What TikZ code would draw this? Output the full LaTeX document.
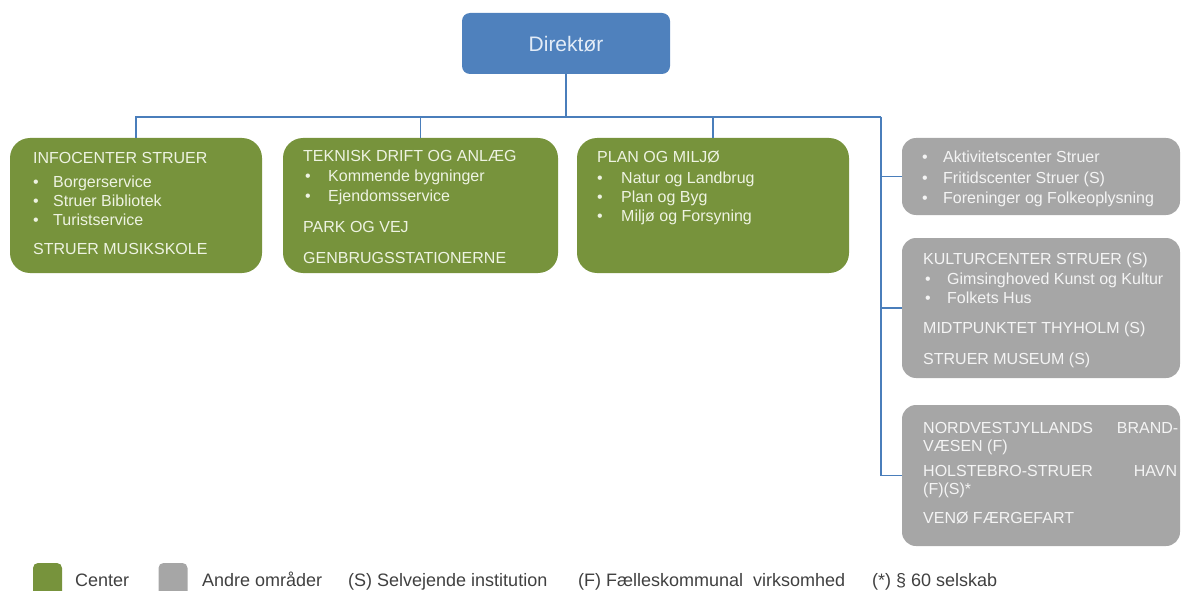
\documentclass[tikz,border=0pt]{standalone}
\usepackage{fontspec}
\setmainfont{Liberation Sans}
\definecolor{dirblue}{HTML}{4F81BD}
\definecolor{linecol}{HTML}{4A7EBB}
\definecolor{cgreen}{HTML}{77933C}
\definecolor{cgrey}{HTML}{A6A6A6}
\definecolor{gtext}{HTML}{EEF3E2}
\definecolor{atext}{HTML}{F4F4F4}
\definecolor{dtext}{HTML}{E3ECF7}
\definecolor{legtext}{HTML}{404040}
\begin{document}
\begin{tikzpicture}[x=1pt,y=-1pt,
  boxbase/.style={inner sep=0pt, outer sep=0pt, draw=none},
  dirbox/.style={boxbase, fill=dirblue, rounded corners=8pt, minimum width=208pt, minimum height=61pt},
  greenbox/.style={boxbase, fill=cgreen, rounded corners=20pt, minimum width=#1, minimum height=135pt},
  greybox/.style={boxbase, fill=cgrey, rounded corners=14pt, minimum width=278pt, minimum height=#1},
  conn/.style={draw=linecol, line width=1.3pt},
  greentxt/.style={anchor=base west, inner sep=0pt, text=gtext, font=\fontsize{16}{18}\selectfont},
  greytxt/.style={anchor=base west, inner sep=0pt, text=atext, font=\fontsize{16}{18}\selectfont},
  legtxt/.style={anchor=base west, inner sep=0pt, text=legtext, font=\fontsize{18}{20}\selectfont},
  legsq/.style={boxbase, rounded corners=5pt, minimum width=29pt, minimum height=40pt}
]
\useasboundingbox (0,0) rectangle (1181,591);
\clip (0,0) rectangle (1181,591);

% Director
\node[dirbox] (dir) at (566,43.5) {};
\node[inner sep=0pt, text=dtext, font=\fontsize{21}{24}\selectfont] (dirt) at (566,44) {Direktør};

% Green boxes
\node[greenbox=252pt] (g1) at (136,205.5) {};
\node[greenbox=275pt] (g2) at (420.5,205.5) {};
\node[greenbox=272pt] (g3) at (713,205.5) {};

% Grey boxes
\node[greybox=77pt] (a1) at (1041,176.5) {};
\node[greybox=140pt] (a2) at (1041,308) {};
\node[greybox=141pt] (a3) at (1041,475.5) {};

% Connectors
\coordinate (bus) at (566,117);
\coordinate (vx) at (881,117);
\draw[conn] (dir.south) -- (bus);
\draw[conn] (g1.north) -- (g1.north |- bus) -- (vx);
\draw[conn] (g2.north) -- (g2.north |- bus);
\draw[conn] (g3.north) -- (g3.north |- bus);
\draw[conn] (vx) |- (a1.west);
\draw[conn] (vx) |- (a2.west);
\draw[conn] (vx) |- (a3.west);

% Box 1 text
\node[greentxt] (t11) at (33,164) {INFOCENTER STRUER};
\node[greentxt] (b11) at (33,187) {•}; \node[greentxt] (t12) at (53,187) {Borgerservice};
\node[greentxt] (b12) at (33,206) {•}; \node[greentxt] (t13) at (53,206) {Struer Bibliotek};
\node[greentxt] (b13) at (33,225) {•}; \node[greentxt] (t14) at (53,225) {Turistservice};
\node[greentxt] (t15) at (33,254) {STRUER MUSIKSKOLE};

% Box 2 text
\node[greentxt] (t21) at (303,161) {TEKNISK DRIFT OG ANLÆG};
\node[greentxt] (b21) at (305,182) {•}; \node[greentxt] (t22) at (328,182) {Kommende bygninger};
\node[greentxt] (b22) at (305,201) {•}; \node[greentxt] (t23) at (328,201) {Ejendomsservice};
\node[greentxt] (t24) at (303,232) {PARK OG VEJ};
\node[greentxt] (t25) at (303,263) {GENBRUGSSTATIONERNE};

% Box 3 text
\node[greentxt] (t31) at (597,163) {PLAN OG MILJØ};
\node[greentxt] (b31) at (597,183) {•}; \node[greentxt] (t32) at (621,183) {Natur og Landbrug};
\node[greentxt] (b32) at (597,202) {•}; \node[greentxt] (t33) at (621,202) {Plan og Byg};
\node[greentxt] (b33) at (597,221) {•}; \node[greentxt] (t34) at (621,221) {Miljø og Forsyning};

% Grey box 1 text
\node[greytxt] (c11) at (922,163) {•}; \node[greytxt] (s11) at (943,163) {Aktivitetscenter Struer};
\node[greytxt] (c12) at (922,183) {•}; \node[greytxt] (s12) at (943,183) {Fritidscenter Struer (S)};
\node[greytxt] (c13) at (922,203) {•}; \node[greytxt] (s13) at (943,203) {Foreninger og Folkeoplysning};

% Grey box 2 text
\node[greytxt] (s21) at (923,264) {KULTURCENTER STRUER (S)};
\node[greytxt] (c21) at (925,284) {•}; \node[greytxt] (s22) at (947,284) {Gimsinghoved Kunst og Kultur};
\node[greytxt] (c22) at (925,303) {•}; \node[greytxt] (s23) at (947,303) {Folkets Hus};
\node[greytxt] (s24) at (923,333) {MIDTPUNKTET THYHOLM (S)};
\node[greytxt] (s25) at (923,364) {STRUER MUSEUM (S)};

% Grey box 3 text
\node[greytxt] (s31) at (923,433) {\makebox[255pt][s]{NORDVESTJYLLANDS\hfill BRAND-}};
\node[greytxt] (s32) at (923,451) {VÆSEN (F)};
\node[greytxt] (s33) at (923,476) {\makebox[254pt][s]{HOLSTEBRO-STRUER\hfill HAVN}};
\node[greytxt] (s34) at (923,494) {(F)(S)*};
\node[greytxt] (s35) at (923,523) {VENØ FÆRGEFART};

% Legend
\node[legsq, fill=cgreen] (lg1) at (47.5,583) {};
\node[legtxt] (lt1) at (75,586) {Center};
\node[legsq, fill=cgrey] (lg2) at (173,583) {};
\node[legtxt] (lt2) at (202,586) {Andre områder};
\node[legtxt] (lt3) at (348,586) {(S) Selvejende institution};
\node[legtxt] (lt4) at (578,586) {(F) Fælleskommunal\ \ virksomhed};
\node[legtxt] (lt5) at (872,586) {(*) § 60 selskab};
\end{tikzpicture}
\end{document}
